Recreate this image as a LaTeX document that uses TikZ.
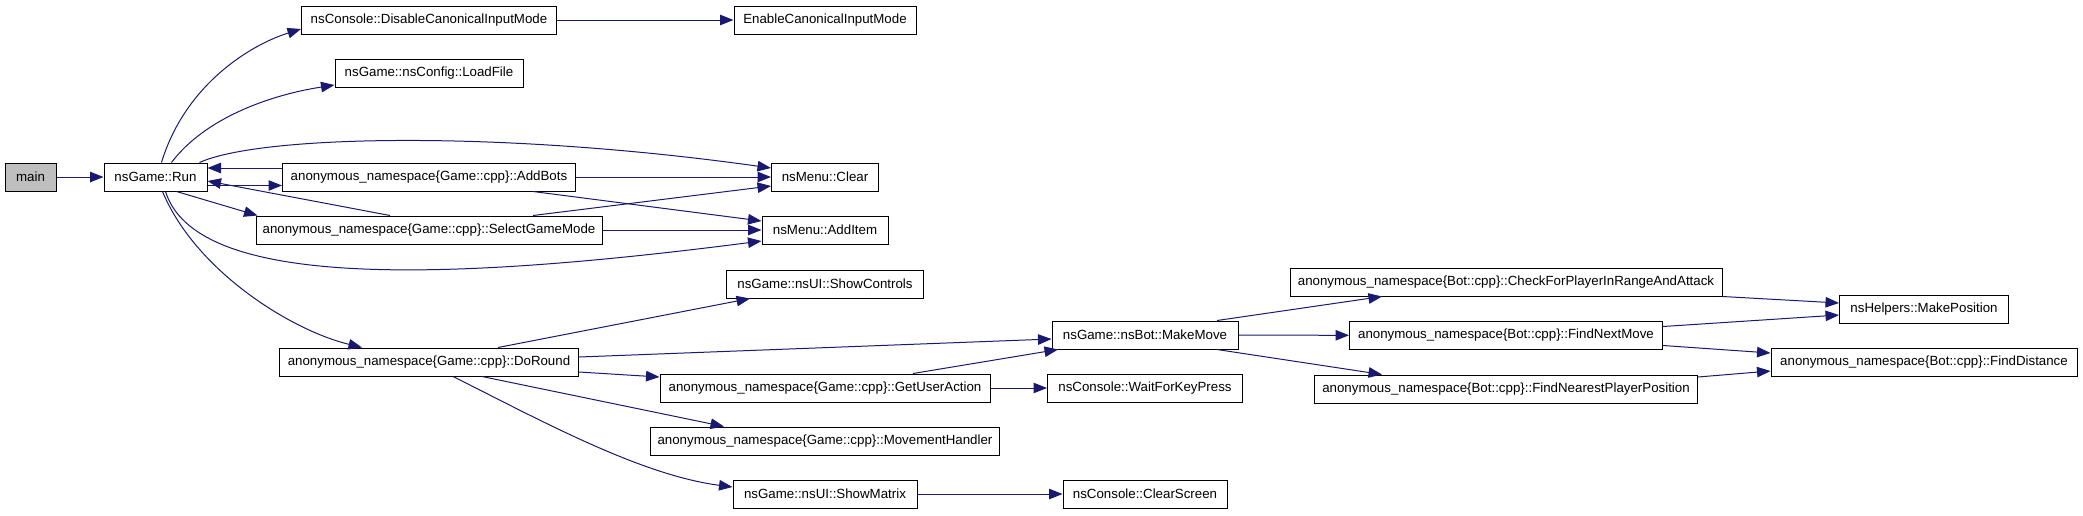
\documentclass[tikz,border=0pt]{standalone}
\usepackage{fontspec}
\setmainfont{Liberation Sans}
\usetikzlibrary{arrows.meta,positioning}

\definecolor{navy}{RGB}{25,25,112}
\definecolor{mainfill}{RGB}{191,191,191}

\tikzset{
  fn/.style={draw=black, line width=1pt, fill=white, minimum height=28pt, inner sep=0pt,
    font=\fontsize{13.3}{15}\selectfont},
  call/.style={draw=navy, line width=1pt, -{Triangle[length=13.5pt,width=10.5pt]}}
}

\begin{document}
\begin{tikzpicture}[x=1pt, y=-1pt]
\useasboundingbox (0,0) rectangle (2083,515);

% first column
\node[fn, fill=mainfill, minimum width=51pt] (main) at (30.5,177) {main};
\node[fn, minimum width=103pt] (run) at (155.5,177) {nsGame::Run};

\node[fn, minimum width=255pt] (disable) at (429,20) {nsConsole::DisableCanonicalInputMode};
\node[fn, minimum width=188pt] (loadfile) at (429,73) {nsGame::nsConfig::LoadFile};
\node[fn, minimum width=293pt] (addbots) at (429,177) {anonymous\_namespace\{Game::cpp\}::AddBots};
\node[fn, minimum width=346pt] (selectmode) at (429,230) {anonymous\_namespace\{Game::cpp\}::SelectGameMode};
\node[fn, minimum width=299pt] (doround) at (429,362) {anonymous\_namespace\{Game::cpp\}::DoRound};

\node[fn, minimum width=182pt] (enable) at (825,20) {EnableCanonicalInputMode};
\node[fn, minimum width=107pt] (clear) at (825,177) {nsMenu::Clear};
\node[fn, minimum width=126pt] (additem) at (825,230) {nsMenu::AddItem};
\node[fn, minimum width=197pt] (showcontrols) at (825,284) {nsGame::nsUI::ShowControls};
\node[fn, minimum width=330pt] (useraction) at (825,388) {anonymous\_namespace\{Game::cpp\}::GetUserAction};
\node[fn, minimum width=349pt] (movement) at (825,441) {anonymous\_namespace\{Game::cpp\}::MovementHandler};
\node[fn, minimum width=184pt] (showmatrix) at (825,494) {nsGame::nsUI::ShowMatrix};

\node[fn, minimum width=186pt] (makemove) at (1145,335) {nsGame::nsBot::MakeMove};
\node[fn, minimum width=195pt] (waitkey) at (1145,388) {nsConsole::WaitForKeyPress};
\node[fn, minimum width=164pt] (clearscreen) at (1145,494) {nsConsole::ClearScreen};

\node[fn, minimum width=432pt] (checkattack) at (1506,282) {anonymous\_namespace\{Bot::cpp\}::CheckForPlayerInRangeAndAttack};
\node[fn, minimum width=313pt] (nextmove) at (1506,335.5) {anonymous\_namespace\{Bot::cpp\}::FindNextMove};
\node[fn, minimum width=383pt] (nearestpos) at (1506,389) {anonymous\_namespace\{Bot::cpp\}::FindNearestPlayerPosition};

\node[fn, minimum width=169pt] (makepos) at (1924,309) {nsHelpers::MakePosition};
\node[fn, minimum width=306pt] (finddist) at (1924,362) {anonymous\_namespace\{Bot::cpp\}::FindDistance};

% straight calls
\foreach \from/\to in {main/run, disable/enable, addbots/clear, selectmode/additem,
    useraction/waitkey, showmatrix/clearscreen, makemove/nextmove}
  \draw[call] (\from) -- (\to);

% calls from nsGame::Run
\draw[call] ([xshift=6pt]run.north) .. controls (185,85) and (250,45) .. ([yshift=-9pt]disable.west);
\draw[call] ([xshift=16pt]run.north) .. controls (205,118) and (270,95) .. ([yshift=-12pt]loadfile.west);
\draw[call] ([xshift=-8pt]run.north east) .. controls (260,135) and (500,130) .. ([yshift=9pt]clear.west);
\draw[call] ([yshift=-8.5pt]run.east) -- ([yshift=-8.5pt]addbots.west);
\draw[call] ([yshift=9pt]addbots.west) -- ([yshift=9pt]run.east);
\draw[call] ([xshift=21pt]run.south) -- ([xshift=2pt]selectmode.north west);
\draw[call] ([xshift=-39pt]selectmode.north) -- ([yshift=-4pt]run.east);
\draw[call] ([xshift=10pt]run.south) .. controls (195,285) and (420,285) .. ([yshift=-11pt]additem.west);
\draw[call] ([xshift=7pt]run.south) .. controls (195,270) and (290,330) .. ([xshift=-67pt]doround.north);

% menu calls
\draw[call] ([xshift=104pt]addbots.south) -- ([yshift=9pt]additem.west);
\draw[call] ([xshift=104pt]selectmode.north) -- ([yshift=-9pt]clear.west);

% calls from DoRound
\draw[call] ([xshift=69pt]doround.north) -- ([xshift=-75pt]showcontrols.south);
\draw[call] ([yshift=5pt]doround.east) -- ([yshift=-4pt]makemove.west);
\draw[call] ([yshift=-10pt]doround.east) -- ([yshift=11pt]useraction.west);
\draw[call] ([xshift=53pt]doround.south) -- ([xshift=-101pt]movement.north);
\draw[call] ([xshift=24pt]doround.south) .. controls (540,420) and (640,475) .. ([yshift=7pt]showmatrix.west);
\draw[call] ([xshift=88pt]useraction.north) -- ([xshift=-87pt]makemove.south);

% bot calls
\draw[call] ([xshift=72pt]makemove.north) -- ([xshift=-124pt]checkattack.south);
\draw[call] ([xshift=72pt]makemove.south) -- ([xshift=-124pt]nearestpos.north);
\draw[call] (checkattack.south east) -- ([yshift=6pt]makepos.west);
\draw[call] ([yshift=9pt]nextmove.east) -- ([yshift=-6pt]makepos.west);
\draw[call] ([yshift=-10pt]nextmove.east) -- ([yshift=9pt]finddist.west);
\draw[call] ([yshift=12pt]nearestpos.east) -- ([yshift=-9pt]finddist.west);
\end{tikzpicture}
\end{document}
